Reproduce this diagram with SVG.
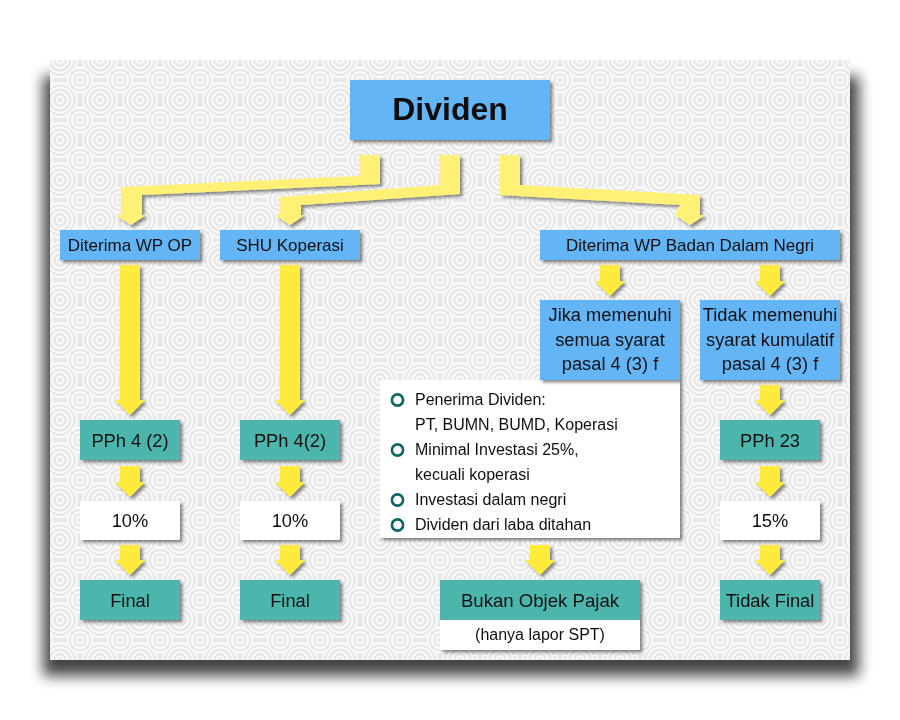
<svg xmlns="http://www.w3.org/2000/svg" width="900" height="720" viewBox="0 0 900 720">
<defs>
  <pattern id="swA" width="40" height="40" patternUnits="userSpaceOnUse">
    <rect width="40" height="40" fill="#e8e8e8"/>
    <g fill="none" stroke="#fcfcfc" stroke-width="1.8">
      <circle cx="20" cy="20" r="17"/><circle cx="20" cy="20" r="12.5"/><circle cx="20" cy="20" r="8"/><circle cx="20" cy="20" r="3.5"/>
    </g>
  </pattern>
  <pattern id="swB" width="40" height="40" patternUnits="userSpaceOnUse" patternTransform="translate(20 20)">
    <circle cx="20" cy="20" r="13.5" fill="#e8e8e8"/>
    <g fill="none" stroke="#fcfcfc" stroke-width="1.8">
      <circle cx="20" cy="20" r="12.5"/><circle cx="20" cy="20" r="8"/><circle cx="20" cy="20" r="3.5"/>
    </g>
  </pattern>
  <filter id="panelShadow" x="-10%" y="-10%" width="120%" height="120%">
    <feGaussianBlur stdDeviation="7"/>
  </filter>
  <filter id="ds" x="-20%" y="-20%" width="140%" height="150%">
    <feDropShadow dx="2.5" dy="2.5" stdDeviation="1.5" flood-color="#000" flood-opacity="0.45"/>
  </filter>
  <style>
    .t{font-family:"Liberation Sans",Arial,sans-serif;fill:#111;text-anchor:middle}
    .f17{font-size:17px}
    .f18{font-size:18.3px}
    .f16{font-size:16px}
    .bl{fill:#64b5f6}
    .tl{fill:#4db6ac}
    .wh{fill:#ffffff}
    .pale{fill:#fff176}
    .yel{fill:#ffeb3b}
    .bul{fill:none;stroke:#0d6660;stroke-width:2.6}
    .lt{font-family:"Liberation Sans",Arial,sans-serif;fill:#111;font-size:16px}
  </style>
</defs>

<!-- background panel -->
<rect width="900" height="720" fill="#ffffff"/>
<rect x="43" y="76" width="816" height="600" fill="#000" opacity="0.72" filter="url(#panelShadow)"/>
<rect x="50" y="60" width="800" height="600" fill="url(#swA)"/>
<rect x="50" y="60" width="800" height="600" fill="url(#swB)"/>

<!-- connectors -->
<g id="connectors" filter="url(#ds)">
  <polygon class="pale" points="360,155 380,155 380,184 142,195 142,215 146,215 131,225 116,215 121,215 121,187 360,176"/>
  <polygon class="pale" points="440,155 460,155 460,194 301,205 301,215 305,215 290,225 275,215 280,215 280,197 440,185"/>
  <polygon class="pale" points="500,155 520,155 520,185 700,195 700,215 705,215 690,225 675,215 680,205 500,195"/>

  <polygon class="yel" points="120,265 140,265 140,400 145,400 130,415 115,400 120,400"/>
  <polygon class="yel" points="120,466 140,466 140,482 145,482 130,497 115,482 120,482"/>
  <polygon class="yel" points="120,545 140,545 140,560 145,560 130,575 115,560 120,560"/>

  <polygon class="yel" points="280,265 300,265 300,400 305,400 290,415 275,400 280,400"/>
  <polygon class="yel" points="280,466 300,466 300,482 305,482 290,497 275,482 280,482"/>
  <polygon class="yel" points="280,545 300,545 300,560 305,560 290,575 275,560 280,560"/>

  <polygon class="yel" points="600,265 620,265 620,281 625,281 610,296 595,281 600,281"/>
  <polygon class="yel" points="760,265 780,265 780,281 785,281 770,296 755,281 760,281"/>
  <polygon class="yel" points="760,385 780,385 780,400 785,400 770,415 755,400 760,400"/>
  <polygon class="yel" points="760,466 780,466 780,482 785,482 770,497 755,482 760,482"/>
  <polygon class="yel" points="760,545 780,545 780,560 785,560 770,575 755,560 760,560"/>
  <polygon class="yel" points="530,545 550,545 550,560 555,560 540,575 525,560 530,560"/>
</g>

<!-- nodes -->
<g id="n-dividen" filter="url(#ds)">
  <rect class="bl" x="350" y="80" width="200" height="60"/>
  <text class="t" x="450" y="120" font-size="32" font-weight="bold">Dividen</text>
</g>

<g id="n-wpop" filter="url(#ds)">
  <rect class="bl" x="60" y="230" width="140" height="30"/>
  <text class="t f17" x="130" y="251">Diterima WP OP</text>
</g>
<g id="n-shu" filter="url(#ds)">
  <rect class="bl" x="220" y="230" width="140" height="30"/>
  <text class="t f17" x="290" y="251">SHU Koperasi</text>
</g>
<g id="n-badan" filter="url(#ds)">
  <rect class="bl" x="540" y="230" width="300" height="30"/>
  <text class="t f17" x="690" y="251">Diterima WP Badan Dalam Negri</text>
</g>

<g id="n-syarat-box" filter="url(#ds)">
  <rect class="wh" x="380" y="380" width="300" height="158"/>
  <circle class="bul" cx="397.5" cy="400" r="5.6"/>
  <circle class="bul" cx="397.5" cy="450" r="5.6"/>
  <circle class="bul" cx="397.5" cy="500" r="5.6"/>
  <circle class="bul" cx="397.5" cy="525" r="5.6"/>
  <text class="lt" x="415" y="405">Penerima Dividen:</text>
  <text class="lt" x="415" y="430">PT, BUMN, BUMD, Koperasi</text>
  <text class="lt" x="415" y="455">Minimal Investasi 25%,</text>
  <text class="lt" x="415" y="480">kecuali koperasi</text>
  <text class="lt" x="415" y="505">Investasi dalam negri</text>
  <text class="lt" x="415" y="530">Dividen dari laba ditahan</text>
</g>

<g id="n-jika" filter="url(#ds)">
  <rect class="bl" x="540" y="300" width="140" height="80"/>
  <text class="t f18" x="610" y="321">Jika memenuhi</text>
  <text class="t f18" x="610" y="345.5">semua syarat</text>
  <text class="t f18" x="610" y="370">pasal 4 (3) f</text>
</g>
<g id="n-tidak" filter="url(#ds)">
  <rect class="bl" x="700" y="300" width="140" height="80"/>
  <text class="t f18" x="770" y="321">Tidak memenuhi</text>
  <text class="t f18" x="770" y="345.5">syarat kumulatif</text>
  <text class="t f18" x="770" y="370">pasal 4 (3) f</text>
</g>

<g id="n-pph42a" filter="url(#ds)">
  <rect class="tl" x="80" y="420" width="100" height="40"/>
  <text class="t f18" x="130" y="446.5">PPh 4 (2)</text>
</g>
<g id="n-pph42b" filter="url(#ds)">
  <rect class="tl" x="240" y="420" width="100" height="40"/>
  <text class="t f18" x="290" y="446.5">PPh 4(2)</text>
</g>
<g id="n-pph23" filter="url(#ds)">
  <rect class="tl" x="720" y="420" width="100" height="40"/>
  <text class="t f18" x="770" y="446.5">PPh 23</text>
</g>

<g id="n-10a" filter="url(#ds)">
  <rect class="wh" x="80" y="501" width="100" height="39"/>
  <text class="t f18" x="130" y="527">10%</text>
</g>
<g id="n-10b" filter="url(#ds)">
  <rect class="wh" x="240" y="501" width="100" height="39"/>
  <text class="t f18" x="290" y="527">10%</text>
</g>
<g id="n-15" filter="url(#ds)">
  <rect class="wh" x="720" y="501" width="100" height="39"/>
  <text class="t f18" x="770" y="527">15%</text>
</g>

<g id="n-final-a" filter="url(#ds)">
  <rect class="tl" x="80" y="580" width="100" height="40"/>
  <text class="t f18" x="130" y="606.5">Final</text>
</g>
<g id="n-final-b" filter="url(#ds)">
  <rect class="tl" x="240" y="580" width="100" height="40"/>
  <text class="t f18" x="290" y="606.5">Final</text>
</g>
<g id="n-bukan" filter="url(#ds)">
  <rect class="wh" x="440" y="580" width="200" height="70"/>
  <rect class="tl" x="440" y="580" width="200" height="40"/>
  <text class="t" x="540" y="606.5" font-size="18.6">Bukan Objek Pajak</text>
  <text class="t f16" x="540" y="640">(hanya lapor SPT)</text>
</g>
<g id="n-tidakfinal" filter="url(#ds)">
  <rect class="tl" x="720" y="580" width="100" height="40"/>
  <text class="t f18" x="770" y="606.5">Tidak Final</text>
</g>
</svg>
